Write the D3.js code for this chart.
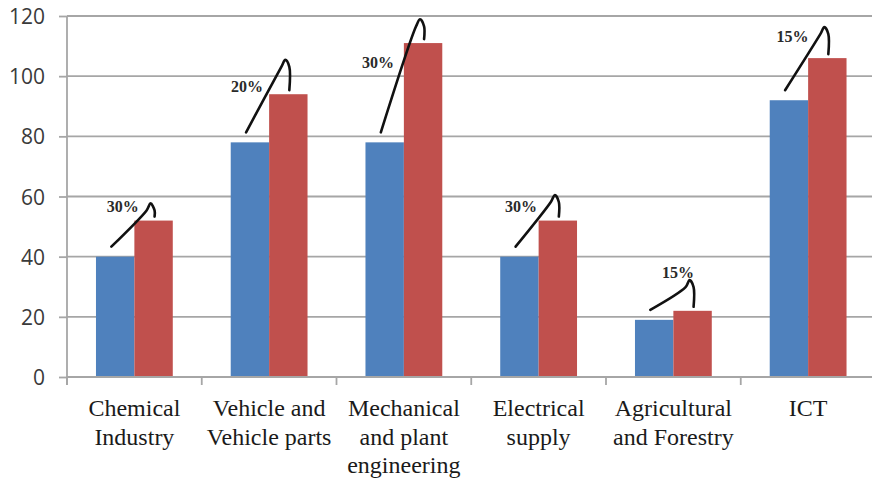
<!DOCTYPE html>
<html>
<head>
<meta charset="utf-8">
<script src="https://cdn.jsdelivr.net/npm/d3@7/dist/d3.min.js"></script>
<style>
  html, body { margin: 0; padding: 0; background: #fff; }
  svg { display: block; }
</style>
</head>
<body>
<svg id="chart" width="872" height="479"></svg>
<script>
// ---- data ----
const categories = [
  ["Chemical", "Industry"],
  ["Vehicle and", "Vehicle parts"],
  ["Mechanical", "and plant", "engineering"],
  ["Electrical", "supply"],
  ["Agricultural", "and Forestry"],
  ["ICT"]
];
const seriesBlue = [40, 78, 78, 40, 19, 92];
const seriesRed = [52, 94, 111, 52, 22, 106];
const yTicks = [0, 20, 40, 60, 80, 100, 120];
const growthLabels = ["30%", "20%", "30%", "30%", "15%", "15%"];
// hand-drawn arc peak heights (in value units)
const arcPeaks = [57.7, 105.4, 118.9, 60.5, 32.2, 116.3];
// label vertical positions (value units) and horizontal position within category (fraction)
const labelValues = [56.6, 96.7, 104.6, 56.6, 34.9, 113.2];
const labelFrac = [0.413, 0.336, 0.308, 0.369, 0.534, 0.384];

(function () {
const SERIF = '"Liberation Serif", "Times New Roman", Tinos, serif';
const svg = d3.select("#chart");
const mLeft = 67, mTop = 16, mBottom = 377, stepW = 134.75;
const mRight = mLeft + stepW * categories.length;
const keys = categories.map((c, i) => i);

const x = d3.scaleBand().domain(keys).range([mLeft, mRight]).paddingInner(0.43).paddingOuter(0.215);
const xs = d3.scaleBand().domain(["blue", "red"]).range([0, x.bandwidth()]);
const y = d3.scaleLinear().domain([0, 120]).range([mBottom, mTop]);
const catLeft = i => mLeft + i * x.step();

const gridColor = "#a6a6a6";

// gridlines
svg.append("g").selectAll("line").data(yTicks.filter(d => d > 0)).join("line")
  .attr("x1", mLeft).attr("x2", 872)
  .attr("y1", d => y(d)).attr("y2", d => y(d))
  .attr("stroke", gridColor).attr("stroke-width", 1.8);

// bars
const colors = { blue: "#4f81bd", red: "#c0504d" };
const g = svg.append("g");
keys.forEach(i => {
  [["blue", seriesBlue[i]], ["red", seriesRed[i]]].forEach(([k, v]) => {
    g.append("rect")
      .attr("x", x(i) + xs(k))
      .attr("y", y(v))
      .attr("width", xs.bandwidth())
      .attr("height", y(0) - y(v))
      .attr("fill", colors[k]);
  });
});

// y axis
const yAxis = d3.axisLeft(y).tickValues(yTicks).tickSize(8).tickPadding(14);
const ya = svg.append("g").attr("transform", `translate(${mLeft},0)`).call(yAxis);
ya.select(".domain").attr("stroke", gridColor).attr("stroke-width", 1.8)
  .attr("d", `M0,${mTop}V${mBottom + 8}`);
ya.selectAll(".tick line").attr("stroke", gridColor).attr("stroke-width", 1.8);
ya.selectAll(".tick text")
  .style("font-family", "'Open Sans', sans-serif").style("font-size", "21px")
  .attr("fill", "#3a3a3a").attr("dy", "0.36em");

// x axis line + boundary ticks
const xa = svg.append("g");
xa.append("line").attr("x1", mLeft).attr("x2", 872).attr("y1", y(0)).attr("y2", y(0))
  .attr("stroke", gridColor).attr("stroke-width", 1.8);
xa.selectAll("line.tk").data(d3.range(categories.length + 1)).join("line")
  .attr("class", "tk")
  .attr("x1", i => catLeft(i)).attr("x2", i => catLeft(i))
  .attr("y1", y(0)).attr("y2", y(0) + 8)
  .attr("stroke", gridColor).attr("stroke-width", 1.8);

// category labels
keys.forEach(i => {
  const cx = x(i) + x.bandwidth() / 2;
  const t = svg.append("text")
    .attr("x", cx)
    .attr("y", 416)
    .attr("text-anchor", "middle")
    .style("font-family", SERIF)
    .style("font-size", "24px")
    .attr("fill", "#1a1a1a");
  categories[i].forEach((ln, j) => {
    t.append("tspan").attr("x", cx).attr("dy", j === 0 ? 0 : 28.5)
      .style("font-family", SERIF).text(ln);
  });
});

// hand-drawn growth arcs
const line = d3.line().curve(d3.curveCatmullRom.alpha(0.5));
keys.forEach(i => {
  const bx = x(i) + xs("blue"), rx = x(i) + xs("red");
  const bw = xs.bandwidth();
  const sx = bx + bw * 0.4, sy = y(seriesBlue[i]) - 10;
  const ex = rx + bw / 2 + 1, ey = y(seriesRed[i]) - 4;
  const px = rx + bw / 2 - 3, py = y(arcPeaks[i]);
  const pts = [
    [sx, sy],
    [px - 4, py + 7],
    [px, py],
    [ex, py + 7],
    [ex, ey]
  ];
  svg.append("path").attr("d", line(pts))
    .attr("fill", "none").attr("stroke", "#111").attr("stroke-width", 2.6)
    .attr("stroke-linecap", "round").attr("stroke-linejoin", "round");

  svg.append("text")
    .attr("x", catLeft(i) + labelFrac[i] * x.step())
    .attr("y", y(labelValues[i]))
    .attr("dy", "0.35em")
    .attr("text-anchor", "middle")
    .style("font-family", SERIF)
    .style("font-weight", "bold")
    .style("font-size", "16px")
    .attr("fill", "#2a2a2a")
    .text(growthLabels[i]);
});
})();
</script>
</body>
</html>
